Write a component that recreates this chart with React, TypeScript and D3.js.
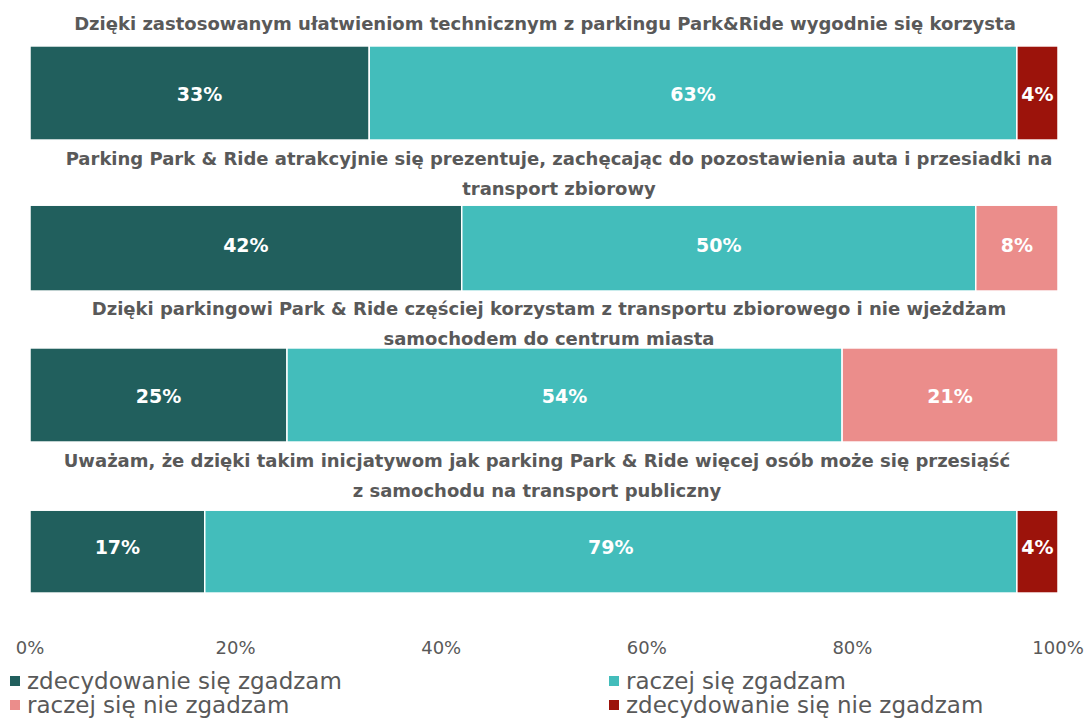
import React from "react";
import * as d3 from "d3";

const statements = [
  ["Dzięki zastosowanym ułatwieniom technicznym z parkingu Park&Ride wygodnie się korzysta"],
  ["Parking Park & Ride atrakcyjnie się prezentuje, zachęcając do pozostawienia auta i przesiadki na", "transport zbiorowy"],
  ["Dzięki parkingowi Park & Ride częściej korzystam z transportu zbiorowego i nie wjeżdżam", "samochodem do centrum miasta"],
  ["Uważam, że dzięki takim inicjatywom jak parking Park & Ride więcej osób może się przesiąść", "z samochodu na transport publiczny"],
];
const seriesNames = ["zdecydowanie się zgadzam", "raczej się zgadzam", "raczej się nie zgadzam", "zdecydowanie się nie zgadzam"];
const seriesColors = ["#215F5D", "#43BDBB", "#EB8D8B", "#9C130B"];
const stronglyAgree = [33, 42, 25, 17];
const ratherAgree = [63, 50, 54, 79];
const ratherDisagree = [0, 8, 21, 0];
const stronglyDisagree = [4, 0, 0, 4];
const ticks = [0, 20, 40, 60, 80, 100];

const W = 1088, H = 720;
const titleFont = "'DejaVu Sans', sans-serif";
const textColor = "#595959";
// layout: baseline offset of the last title line above each bar, how far the title's white box overlaps the bar, title centre
const titleGap = [16, 2, 3, 2];
const boxOverlap = [0, 9, 0, 12];
const titleCenter = [545, 559, 549, 537];
const lineH = 30;

export default function App() {
  const rows = statements.map((s, i) => ({
    i,
    vals: [stronglyAgree[i], ratherAgree[i], ratherDisagree[i], stronglyDisagree[i]],
  }));
  const x = d3.scaleLinear().domain([0, 100]).range([30, 1058]);
  const y = d3.scaleBand<number>().domain(rows.map((r) => r.i)).range([17.5, 621.5]).paddingInner(0.377).paddingOuter(0.1885);
  const stack = d3.stack<any>().keys(["0", "1", "2", "3"]).value((d, k) => d.vals[+k]);
  const stacked = stack(rows);

  return (
    <svg width={W} height={H} style={{ display: "block", position: "absolute", left: 0, top: 0 }}>
      <rect width={W} height={H} fill="#fff" />
      {stacked.map((layer, si) => (
        <g key={si}>
          {layer.map((seg, ri) => {
            const v = seg[1] - seg[0];
            if (v <= 0) return null;
            const x0 = x(seg[0]), x1 = x(seg[1]);
            const yy = y(ri)!;
            return (
              <g key={ri}>
                <rect x={x0} y={yy} width={x1 - x0} height={y.bandwidth()} fill={seriesColors[si]} stroke="#fff" strokeWidth={1.5} />
                <text x={(x0 + x1) / 2} y={yy + y.bandwidth() / 2 + 1} dy="0.36em" textAnchor="middle" fill="#fff" fontFamily={titleFont} fontWeight="bold" fontSize={19}>
                  {v}%
                </text>
              </g>
            );
          })}
        </g>
      ))}
      {statements.map((lines, i) => {
        const top = y(i)!;
        const lastBase = top - titleGap[i];
        const firstBase = lastBase - (lines.length - 1) * lineH;
        return (
          <g key={i}>
            {boxOverlap[i] > 0 && (
              <rect x={x(0) - 2} y={firstBase - 22} width={x(100) - x(0) + 4} height={top + boxOverlap[i] - (firstBase - 22)} fill="#fff" />
            )}
            <text textAnchor="middle" fill={textColor} fontFamily={titleFont} fontWeight="bold" fontSize={18}>
              {lines.map((ln, li) => (
                <tspan key={li} x={titleCenter[i]} y={firstBase + li * lineH}>{ln}</tspan>
              ))}
            </text>
          </g>
        );
      })}
      {ticks.map((t) => (
        <text key={t} x={x(t)} y={648} dy="0.36em" textAnchor="middle" fill={textColor} fontFamily={titleFont} fontSize={18}>
          {t}%
        </text>
      ))}
      {seriesNames.map((n, i) => {
        const lx = i % 2 === 0 ? 10 : 609;
        const ly = i < 2 ? 681 : 705;
        return (
          <g key={n}>
            <rect x={lx} y={ly - 5} width={10} height={10} fill={seriesColors[i]} />
            <text x={lx + 17} y={ly} dy="0.36em" fill={textColor} fontFamily={titleFont} fontSize={23}>{n}</text>
          </g>
        );
      })}
    </svg>
  );
}
